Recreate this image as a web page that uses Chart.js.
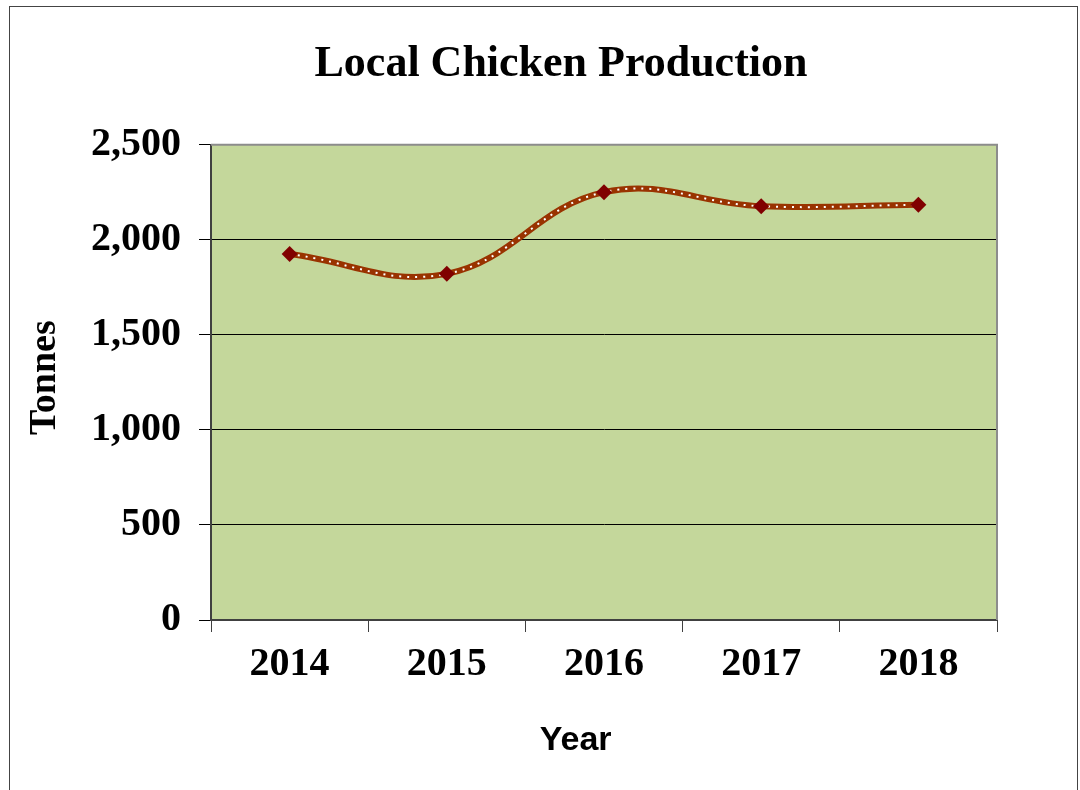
<!DOCTYPE html>
<html>
<head>
<meta charset="utf-8">
<title>Local Chicken Production</title>
<script src="https://cdn.jsdelivr.net/npm/chart.js@4.4.1/dist/chart.umd.min.js"></script>
<style>
  body { margin: 0; background: #fff; }
  #wrap { position: relative; width: 1080px; height: 790px; overflow: hidden; }
  #frame { position: absolute; left: 9px; top: 6px; width: 1069px; height: 820px; border: 1px solid #444; box-sizing: border-box; pointer-events: none; }
</style>
</head>
<body>
<div id="wrap">
  <canvas id="chickenChart" width="1080" height="790"></canvas>
  <div id="frame"></div>
</div>
<script>
const years = ['2014', '2015', '2016', '2017', '2018'];
const tonnes = [1925, 1821, 2251, 2177, 2184];
const yTicks = [0, 500, 1000, 1500, 2000, 2500];

const serif = '"Liberation Serif", "Times New Roman", serif';
const sans = '"Liberation Sans", Arial, sans-serif';

// green plot area plus the grey top/right frame
const plotBackground = {
    id: 'plotBackground',
    beforeDraw(chart) {
        const { ctx, chartArea: a } = chart;
        ctx.save();
        ctx.fillStyle = '#ffffff';
        ctx.fillRect(0, 0, chart.width, chart.height);
        ctx.fillStyle = '#c4d79b';
        ctx.fillRect(a.left, a.top, a.right - a.left, a.bottom - a.top);
        ctx.restore();
    },
    beforeDatasetsDraw(chart) {
        const { ctx, chartArea: a } = chart;
        ctx.save();
        ctx.strokeStyle = '#8c8c8c';
        ctx.lineWidth = 2;
        ctx.beginPath();
        ctx.moveTo(a.left, a.top);
        ctx.lineTo(a.right, a.top);
        ctx.lineTo(a.right, a.bottom);
        ctx.stroke();
        ctx.restore();
    }
};

const ctx = document.getElementById('chickenChart').getContext('2d');
const chart = new Chart(ctx, {
    type: 'line',
    data: {
        labels: years,
        datasets: [
            {
                label: 'markers',
                data: tonnes,
                showLine: false,
                pointStyle: 'rectRot',
                pointRadius: 8,
                pointBackgroundColor: '#800000',
                pointBorderColor: '#800000',
                pointBorderWidth: 0,
                order: 1
            },
            {
                label: 'dots',
                data: tonnes,
                borderColor: '#ffffff',
                borderWidth: 2,
                borderDash: [2, 6],
                pointRadius: 0,
                tension: 0.4,
                order: 2
            },
            {
                label: 'Tonnes',
                data: tonnes,
                borderColor: '#993300',
                borderWidth: 6,
                pointRadius: 0,
                tension: 0.4,
                order: 3
            }
        ]
    },
    options: {
        responsive: false,
        animation: false,
        layout: { padding: { left: 42, right: 0, top: 0, bottom: 0 } },
        plugins: {
            legend: { display: false },
            tooltip: { enabled: false },
            title: {
                display: true,
                text: 'Local Chicken Production',
                color: '#000',
                font: { family: serif, size: 44, weight: 'bold' },
                padding: { top: 38, bottom: 54 }
            }
        },
        scales: {
            x: {
                offset: true,
                grid: { display: true, offset: true, drawOnChartArea: false, drawTicks: true, tickLength: 12, color: '#404040', lineWidth: 1 },
                border: { display: true, color: '#404040', width: 2 },
                ticks: { color: '#000', padding: 9, maxRotation: 0, font: { family: serif, size: 40, weight: 'bold' } },
                title: {
                    display: true,
                    text: 'Year      ',
                    color: '#000',
                    font: { family: sans, size: 34, weight: 'bold' },
                    padding: { top: 0, bottom: 29 }
                },
                afterFit(scale) { scale.height = 170; }
            },
            y: {
                min: yTicks[0],
                max: yTicks[yTicks.length - 1],
                grid: { color: '#000', lineWidth: 1, tickLength: 12, drawTicks: true },
                border: { display: true, color: '#404040', width: 2 },
                ticks: {
                    stepSize: yTicks[1] - yTicks[0],
                    color: '#000',
                    padding: 18,
                    font: { family: serif, size: 40, weight: 'bold' },
                    callback: v => v.toLocaleString('en-US')
                },
                title: {
                    display: true,
                    text: ' Tonnes',
                    color: '#000',
                    font: { family: serif, size: 38, weight: 'bold' },
                    padding: { top: -20, bottom: 0 }
                },
                afterFit(scale) { scale.width = 169; }
            },
            // empty right-hand axis, only reserves the space right of the plot
            yRight: {
                type: 'linear',
                position: 'right',
                grid: { display: false },
                border: { display: false },
                ticks: { display: false },
                afterFit(scale) { scale.width = 83; }
            }
        }
    },
    plugins: [plotBackground]
});
</script>
</body>
</html>
